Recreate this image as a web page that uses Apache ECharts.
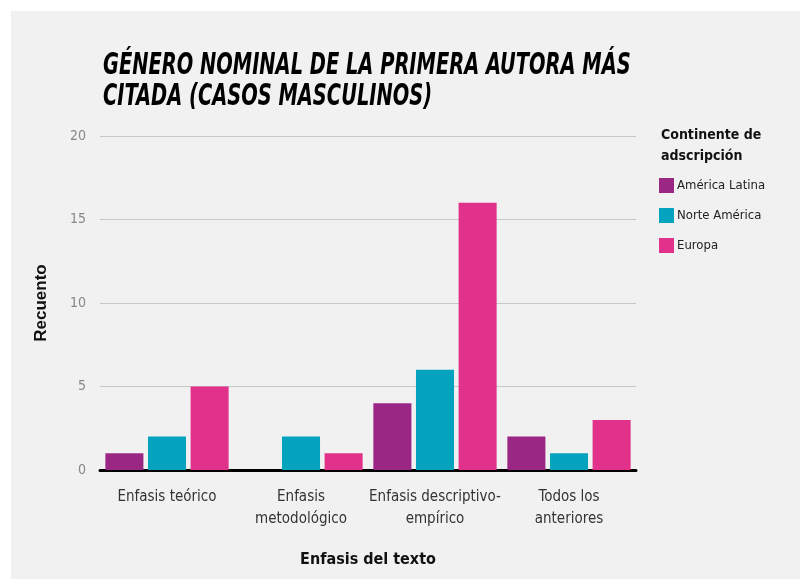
<!DOCTYPE html>
<html>
<head>
<meta charset="utf-8">
<script src="https://cdn.jsdelivr.net/npm/echarts@6/dist/echarts.min.js"></script>
<style>
html,body{margin:0;padding:0;background:#ffffff;}
#chart{width:800px;height:579px;}
</style>
</head>
<body>
<div id="chart"></div>
<script>
var categories = ['Enfasis teórico', 'Enfasis\nmetodológico', 'Enfasis descriptivo-\nempírico', 'Todos los\nanteriores'];
var seriesNames = ['América Latina', 'Norte América', 'Europa'];
var americaLatina = [1, 0, 4, 2];
var norteAmerica = [2, 2, 6, 1];
var europa = [5, 1, 16, 3];
var colors = ['#9b2785', '#05a3bd', '#e2318a'];
var yTicks = [0, 5, 10, 15, 20];
var titleText = 'GÉNERO NOMINAL DE LA PRIMERA AUTORA MÁS\nCITADA (CASOS MASCULINOS)';

var FONT = '"DejaVu Sans Condensed", sans-serif';
var chart = echarts.init(document.getElementById('chart'), null, {renderer: 'canvas'});
var seriesData = [americaLatina, norteAmerica, europa];
chart.setOption({
  backgroundColor: '#ffffff',
  animation: false,
  color: colors,
  graphic: [{
    type: 'rect', silent: true, z: -10,
    shape: {x: 11, y: 11, width: 789, height: 568},
    style: {fill: '#f1f1f1'}
  }, {
    type: 'text', x: 103, y: 51, scaleX: 0.72, z: 10,
    style: {text: titleText, fontFamily: FONT, fontSize: 30, fontWeight: 900, fontStyle: 'italic',
      fill: '#000', lineHeight: 31, textVerticalAlign: 'top'}
  }],
  title: [{
    text: 'Continente de\nadscripción',
    left: 656, top: 120,
    textStyle: {fontFamily: FONT, fontSize: 14, fontWeight: 'bold', color: '#111', lineHeight: 21}
  }],
  legend: {
    orient: 'vertical', left: 659, top: 178, padding: 0,
    icon: 'rect', itemWidth: 15, itemHeight: 15, itemGap: 15,
    data: seriesNames,
    textStyle: {fontFamily: FONT, fontSize: 13, color: '#222', padding: [0, 0, 0, -2]}
  },
  grid: {left: 100, right: 164, top: 136, bottom: 109, containLabel: false},
  xAxis: {
    type: 'category', data: categories,
    name: 'Enfasis del texto', nameLocation: 'middle', nameGap: 82,
    nameTextStyle: {fontFamily: FONT, fontSize: 16, fontWeight: 'bold', color: '#111'},
    axisLine: {show: true, lineStyle: {color: '#000', width: 3}},
    axisTick: {show: false},
    axisLabel: {fontFamily: FONT, fontSize: 15, color: '#333', lineHeight: 22, margin: 16, interval: 0}
  },
  yAxis: {
    type: 'value', min: 0, max: 20, interval: 5,
    name: 'Recuento', nameLocation: 'middle', nameGap: 50,
    nameTextStyle: {fontFamily: '"Liberation Sans", Arial, sans-serif', fontSize: 17, fontWeight: 'bold', color: '#111'},
    axisLine: {show: false}, axisTick: {show: false},
    axisLabel: {fontFamily: FONT, fontSize: 14, color: '#888', margin: 14,
      formatter: function (v) { return yTicks.indexOf(v) >= 0 ? String(v) : ''; }},
    splitLine: {lineStyle: {color: '#c8c8c8', width: 1}}
  },
  series: seriesNames.map(function (n, i) {
    return {
      name: n, type: 'bar', data: seriesData[i],
      barGap: '12%', barCategoryGap: '8%',
      itemStyle: {color: colors[i]}
    };
  })
});
</script>
</body>
</html>
